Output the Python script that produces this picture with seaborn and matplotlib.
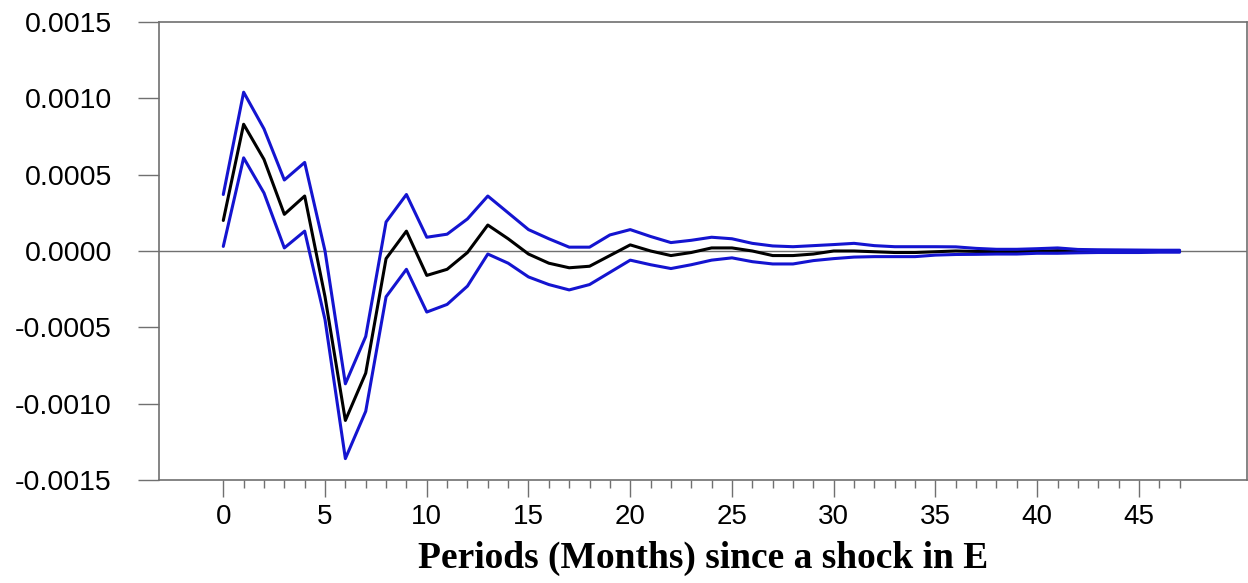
import matplotlib
matplotlib.use("Agg")
import matplotlib.pyplot as plt
from matplotlib.ticker import MultipleLocator, FormatStrFormatter
import numpy as np
import pandas as pd
import seaborn as sns

# Impulse response of the series to a shock in E, with its upper / lower bands
periods = list(range(48))
response = [
    0.00020, 0.00083, 0.00060, 0.00024, 0.00036, -0.00030, -0.00111, -0.00080,
    -0.00005, 0.00013, -0.00016, -0.00012, -0.00001, 0.00017, 0.00008, -0.00002,
    -0.00008, -0.00011, -0.00010, -0.00003, 0.00004, 0.00000, -0.00003, -0.00001,
    0.00002, 0.00002, 0.00000, -0.00003, -0.00003, -0.00002, 0.00000, 0.00000,
    -0.000005, -0.00001, -0.00001, -0.000005, 0.00000, -0.000003, -0.000004, -0.000004,
    -0.000002, 0.000002, 0.000000, -0.000001, -0.000001, -0.000001, -0.000001, -0.000001,
]
upper = [
    0.00037, 0.00104, 0.00080, 0.000465, 0.00058, 0.00000, -0.00087, -0.00056,
    0.00019, 0.00037, 0.00009, 0.00011, 0.00021, 0.00036, 0.00025, 0.00014,
    0.00008, 0.000025, 0.000025, 0.000105, 0.00014, 0.000095, 0.000055, 0.00007,
    0.00009, 0.00008, 0.00005, 0.000033, 0.000028, 0.000035, 0.000042, 0.00005,
    0.000035, 0.000028, 0.000028, 0.000028, 0.000027, 0.000017, 0.000011, 0.000011,
    0.000015, 0.00002, 0.00001, 0.000008, 0.000007, 0.000006, 0.000005, 0.000005,
]
lower = [
    0.00003, 0.00061, 0.00038, 0.00002, 0.00013, -0.00045, -0.00136, -0.00105,
    -0.00030, -0.00012, -0.00040, -0.00035, -0.00023, -0.00002, -0.00008, -0.00017,
    -0.00022, -0.000255, -0.00022, -0.00014, -0.00006, -0.00009, -0.000115, -0.00009,
    -0.00006, -0.000045, -0.00007, -0.000085, -0.000085, -0.000063, -0.00005, -0.00004,
    -0.000037, -0.000037, -0.000037, -0.000027, -0.000023, -0.000022, -0.00002, -0.00002,
    -0.000015, -0.000015, -0.000012, -0.00001, -0.00001, -0.00001, -0.000008, -0.000008,
]

df = pd.DataFrame({"period": periods, "response": response, "upper": upper, "lower": lower})

sns.set_style("ticks")
plt.rcParams["font.family"] = ["Liberation Sans", "DejaVu Sans"]
plt.rcParams["text.color"] = "black"
plt.rcParams["axes.labelcolor"] = "black"

fig = plt.figure(figsize=(12.48, 5.83), dpi=100)
ax = fig.add_axes([0.1274, 0.1767, 0.8716, 0.7856])

grey = "#707070"
blue = "#1414d0"

ax.axhline(0, color=grey, lw=1.0, zorder=1)
sns.lineplot(data=df, x="period", y="response", color="black", lw=2.2, ax=ax, zorder=2)
sns.lineplot(data=df, x="period", y="upper", color=blue, lw=2.2, ax=ax, zorder=3)
sns.lineplot(data=df, x="period", y="lower", color=blue, lw=2.2, ax=ax, zorder=3)

ax.set_xlim(-3.16, 50.3)
ax.set_ylim(-0.0015, 0.0015)
ax.set_xticks([5 * i for i in range(10)])
ax.set_xticks(periods, minor=True)
ax.yaxis.set_major_locator(MultipleLocator(0.0005))
ax.yaxis.set_major_formatter(FormatStrFormatter("%.4f"))

for side in ["left", "right", "top", "bottom"]:
    ax.spines[side].set_color(grey)
    ax.spines[side].set_linewidth(1.2)

ax.tick_params(axis="x", which="major", direction="out", length=12, width=1.0,
               color=grey, labelcolor="black", labelsize=20, pad=5)
ax.tick_params(axis="x", which="minor", direction="out", length=6, width=1.0, color=grey)
ax.tick_params(axis="y", which="major", direction="out", length=15, width=1.0,
               color=grey, labelcolor="black", labelsize=20.5, pad=19)

ax.set_ylabel("")
ax.set_xlabel("Periods (Months) since a shock in E", family=["Liberation Serif", "DejaVu Serif"],
              fontweight="bold", fontsize=27, color="black", labelpad=8)

fig.savefig("out.png", dpi=100)
